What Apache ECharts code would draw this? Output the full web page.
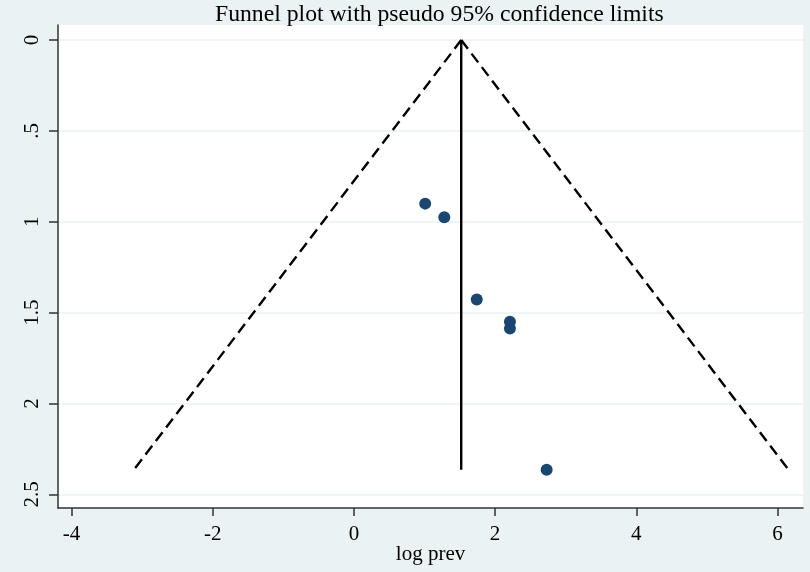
<!DOCTYPE html>
<html>
<head>
<meta charset="utf-8">
<script src="https://cdn.jsdelivr.net/npm/echarts@6/dist/echarts.min.js"></script>
<style>
html,body{margin:0;padding:0;background:#eaf2f3;}
#c{width:810px;height:572px;}
</style>
</head>
<body>
<div id="c"></div>
<script>
// Data
const logPrev = [1.01, 1.28, 1.74, 2.21, 2.21, 2.73];
const seLogPrev = [0.90, 0.975, 1.427, 1.55, 1.587, 2.365];
const pooledEstimate = 1.52;
const maxSe = 2.365;
const lowerLimit = [[1.52, 0], [-3.115, 2.365]];
const upperLimit = [[1.52, 0], [6.155, 2.365]];
const xTicks = [-4, -2, 0, 2, 4, 6];
const yTicks = [0, 0.5, 1, 1.5, 2, 2.5];

const font = '"Liberation Serif", "Times New Roman", serif';
const chart = echarts.init(document.getElementById('c'));
const points = logPrev.map((x, i) => [x, seLogPrev[i]]);

chart.setOption({
  backgroundColor: '#eaf2f3',
  animation: false,
  title: {
    text: 'Funnel plot with pseudo 95% confidence limits',
    left: 210, top: -2,
    textStyle: {fontFamily: font, fontSize: 23.7, fontWeight: 'normal', color: '#000'}
  },
  grid: {left: 58, right: 7, top: 25, bottom: 64, show: true, backgroundColor: '#fff', borderWidth: 0,
         containLabel: false, outerBoundsMode: 'none'},
  xAxis: {
    type: 'value', min: -4.19, max: 6.36,
    name: 'log prev', nameLocation: 'middle', nameGap: 36, nameMoveOverlap: false,
    nameTextStyle: {fontFamily: font, fontSize: 21, color: '#000'},
    axisLine: {show: true, onZero: false, lineStyle: {color: '#333', width: 1.5}},
    axisTick: {show: true, length: 8, customValues: xTicks, lineStyle: {color: '#333', width: 1.5}},
    axisLabel: {customValues: xTicks, margin: 16, fontFamily: font, fontSize: 21, color: '#000'},
    splitLine: {show: false}
  },
  yAxis: {
    type: 'value', inverse: true, min: -0.083, max: 2.575,
    axisLine: {show: true, onZero: false, lineStyle: {color: '#333', width: 1.5}},
    axisTick: {show: true, length: 9, customValues: yTicks, lineStyle: {color: '#333', width: 1.5}},
    axisLabel: {
      customValues: yTicks, rotate: 90, margin: 15, fontFamily: font, fontSize: 21, color: '#000',
      formatter: v => (v > 0 && v < 1) ? String(v).replace(/^0/, '') : String(v)
    },
    splitLine: {show: true, lineStyle: {color: '#eaf2f3', width: 1.5}}
  },
  series: [
    {type: 'line', data: lowerLimit, symbol: 'none', silent: true,
     lineStyle: {color: '#000', width: 2.4, type: [11, 6]}},
    {type: 'line', data: upperLimit, symbol: 'none', silent: true,
     lineStyle: {color: '#000', width: 2.4, type: [11, 6]}},
    {type: 'line', data: [[pooledEstimate, 0], [pooledEstimate, maxSe]], symbol: 'none', silent: true,
     lineStyle: {color: '#000', width: 2.4}},
    {type: 'scatter', data: points, symbolSize: 12, itemStyle: {color: '#1a476f', opacity: 1}}
  ]
});
</script>
</body>
</html>
